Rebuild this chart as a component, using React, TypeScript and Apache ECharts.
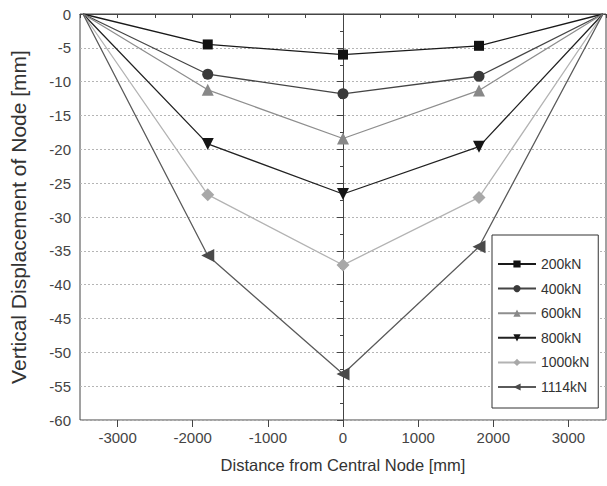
import React, { useEffect, useRef } from "react";
import * as echarts from "echarts";

const xPositions = [-3460, -1800, 0, 1810, 3460];
const seriesNames = ["200kN", "400kN", "600kN", "800kN", "1000kN", "1114kN"];
const d200 = [0, -4.5, -6.0, -4.7, 0];
const d400 = [0, -8.9, -11.8, -9.2, 0];
const d600 = [0, -11.2, -18.4, -11.3, 0];
const d800 = [0, -19.2, -26.6, -19.6, 0];
const d1000 = [0, -26.7, -37.1, -27.1, 0];
const d1114 = [0, -35.7, -53.2, -34.4, 0];
const xTickLabels = [-3000, -2000, -1000, 0, 1000, 2000, 3000];

const allData = [d200, d400, d600, d800, d1000, d1114];
const lineColors = ["#1a1a1a", "#454545", "#8e8e8e", "#222222", "#b3b3b3", "#5a5a5a"];
const markerColors = ["#111111", "#3a3a3a", "#888888", "#151515", "#a8a8a8", "#4a4a4a"];
const symbols = ["rect", "circle", "triangle", "triangle", "diamond", "triangle"];
const symbolRotates = [0, 0, 0, 180, 0, 90];
const symbolSizes = [10, 11, 12, 12, 13, 13];

const FONT = "Liberation Sans, Arial, sans-serif";

export default function App() {
  const ref = useRef<HTMLDivElement>(null);
  useEffect(() => {
    if (!ref.current) return;
    const chart = echarts.init(ref.current, undefined, { renderer: "svg" });
    const series = allData.map((vals, i) => ({
      name: seriesNames[i],
      type: "line",
      xAxisIndex: 0,
      data: vals.map((v, j) => {
        const item: any = { value: [xPositions[j], v] };
        if (j === 0 || j === vals.length - 1) item.symbol = "none";
        return item;
      }),
      symbol: symbols[i],
      symbolSize: symbolSizes[i],
      symbolRotate: symbolRotates[i],
      showAllSymbol: true,
      lineStyle: { color: lineColors[i], width: 1.3 },
      itemStyle: { color: markerColors[i] },
      z: 3,
    }));
    chart.setOption({
      animation: false,
      backgroundColor: "#ffffff",
      textStyle: { fontFamily: FONT },
      grid: {
        left: 75,
        top: 14,
        right: 1,
        bottom: 66,
        show: true,
        borderColor: "#444",
        borderWidth: 1,
      },
      legend: {
        orient: "vertical",
        left: 492,
        top: 235,
        itemWidth: 38,
        itemHeight: 9,
        itemGap: 10.6,
        padding: [22, 9, 14, 5],
        backgroundColor: "#ffffff",
        borderColor: "#333",
        borderWidth: 1,
        borderRadius: 0,
        textStyle: { fontSize: 14, color: "#333", fontFamily: FONT },
        data: seriesNames,
      },
      xAxis: [
        {
          type: "value",
          min: -3500,
          max: 3500,
          interval: 500,
          position: "bottom",
          axisLine: { show: true, lineStyle: { color: "#444", width: 1 } },
          axisTick: { show: true, length: 4, lineStyle: { color: "#444" } },
          axisLabel: { show: false },
          splitLine: { show: false },
        },
        {
          type: "value",
          min: -3500,
          max: 3500,
          position: "bottom",
          axisLine: { show: false },
          axisTick: {
            show: true,
            length: 7,
            customValues: xTickLabels,
            lineStyle: { color: "#444" },
          },
          axisLabel: {
            show: true,
            customValues: xTickLabels,
            formatter: (v: number) => String(v),
            fontSize: 15,
            color: "#444",
            margin: 10,
            fontFamily: FONT,
          },
          splitLine: { show: false },
          name: "Distance from Central Node [mm]",
          nameLocation: "middle",
          nameGap: 36,
          nameTextStyle: { fontSize: 16.5, color: "#333", fontFamily: FONT },
        },
      ],
      yAxis: {
        type: "value",
        min: -60,
        max: 0,
        interval: 5,
        axisLine: { show: true, lineStyle: { color: "#444", width: 1 } },
        axisTick: { show: true, length: 6, lineStyle: { color: "#444" } },
        minorTick: { show: true, splitNumber: 2, length: 3, lineStyle: { color: "#444" } },
        axisLabel: { fontSize: 15, color: "#444", margin: 9, fontFamily: FONT },
        splitLine: {
          show: true,
          lineStyle: { color: "#b5b5b5", type: [2, 2], width: 1 },
        },
        name: "Vertical Displacement of Node [mm]",
        nameLocation: "middle",
        nameGap: 51,
        nameTextStyle: { fontSize: 21, color: "#333", fontFamily: FONT },
      },
      series,
    });
    return () => chart.dispose();
  }, []);
  return (
    <div
      ref={ref}
      style={{ position: "absolute", left: 0, top: 0, width: 607, height: 486 }}
    />
  );
}
